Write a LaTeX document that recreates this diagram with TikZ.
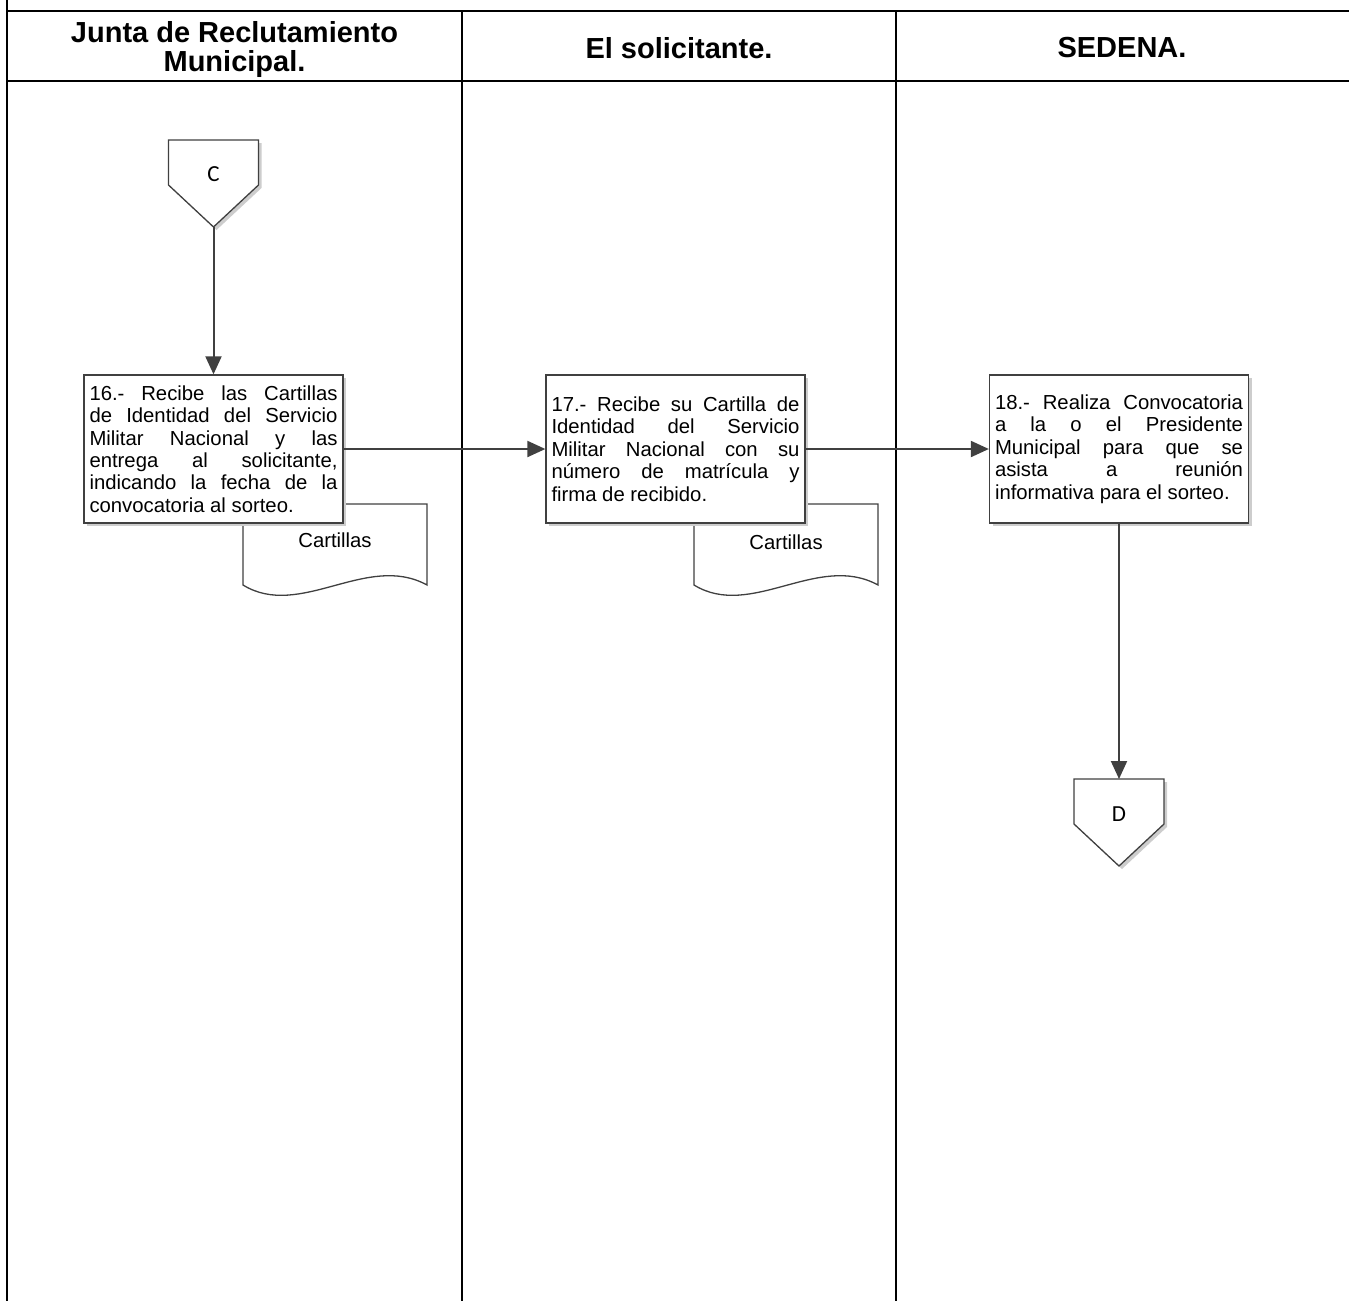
\documentclass[tikz,border=0pt]{standalone}
\usepackage{fontspec}
\setmainfont{Liberation Sans}
\newfontfamily\connfont{Carlito}
\usetikzlibrary{arrows.meta,shadows}
\definecolor{lineGray}{RGB}{64,64,64}
\definecolor{shadeGray}{RGB}{205,205,205}
\newcommand{\looselines}{\tolerance=10000 \hbadness=10000 \hyphenpenalty=10000
  \leftskip=0pt \rightskip=0pt \parfillskip=0pt plus 1fil \spaceskip=0pt \xspaceskip=0pt }

\tikzset{
  lane/.style={line width=2.6pt, black},
  lanehead/.style={font=\fontsize{29}{29}\selectfont\bfseries, align=center},
  stepbox/.style={draw=lineGray, line width=1.3pt, fill=white, text width=248pt,
    minimum height=148pt, inner xsep=5.5pt,
    font=\fontsize{20.3}{22.4}\selectfont,
    execute at begin node=\looselines,
    drop shadow={shadow xshift=3pt, shadow yshift=-3pt, fill=shadeGray, opacity=1}},
  doctext/.style={font=\fontsize{20.3}{22.4}\selectfont},
  docshape/.style={draw=lineGray, line width=1.3pt, fill=white},
  offpage/.style={draw=lineGray, line width=1.3pt, fill=white,
    drop shadow={shadow xshift=3pt, shadow yshift=-3pt, fill=shadeGray, opacity=1}},
  conntext/.style={font=\connfont\fontsize{23}{23}\selectfont},
  flow/.style={draw=lineGray, line width=2pt, -{Triangle[length=18pt, width=16pt]}},
}

\begin{document}
\begin{tikzpicture}[x=1pt, y=-1pt]
  \useasboundingbox (0,0) rectangle (1349,1301);

  % swimlanes
  \draw[lane] (7,0) -- (7,1301);
  \draw[lane] (7,11) -- (1349,11);
  \draw[lane] (7,81) -- (1349,81);
  \draw[lane] (462,11) -- (462,1301);
  \draw[lane] (896,11) -- (896,1301);
  \node[lanehead] (headJunta) at (234.5,50) {Junta de Reclutamiento\\Municipal.};
  \node[lanehead] (headSolic) at (679,48) {El solicitante.};
  \node[lanehead] (headSedena) at (1122,48) {SEDENA.};

  % connector C
  \draw[offpage] (168.5,140) -- (258.5,140) -- (258.5,185) -- (213.5,227) -- (168.5,185) -- cycle;
  \node[conntext] (conC) at (213.5,174) {C};
  \coordinate (cTip) at (213.5,227);

  % documents
  \draw[docshape] (243,504) -- (427,504) -- (427,585) .. controls (367,552) and (300,620) .. (243,585) -- cycle;
  \node[doctext] (docA) at (335,540) {Cartillas};
  \draw[docshape] (694,504) -- (878,504) -- (878,585) .. controls (818,552) and (751,620) .. (694,585) -- cycle;
  \node[doctext] (docB) at (786,542) {Cartillas};

  % steps
  \node[stepbox] (box16) at (213.5,449) {16.- Recibe las Cartillas\linebreak de Identidad del Servicio\linebreak Militar Nacional y las\linebreak entrega al solicitante,\linebreak indicando la fecha de la\linebreak convocatoria al sorteo.};
  \node[stepbox] (box17) at (675.5,449) {17.- Recibe su Cartilla de\linebreak Identidad del Servicio\linebreak Militar Nacional con su\linebreak número de matrícula y\linebreak firma de recibido.};
  \node[stepbox] (box18) at (1119,449) {18.- Realiza Convocatoria\linebreak a la o el Presidente\linebreak Municipal para que se\linebreak asista a reunión\linebreak informativa para el sorteo.};

  % connector D
  \draw[offpage] (1074,779) -- (1164,779) -- (1164,824) -- (1119,866) -- (1074,824) -- cycle;
  \node[conntext] (conD) at (1119,814) {D};
  \coordinate (dTop) at (1119,779);

  % flow
  \draw[flow] (cTip) -- (box16.north);
  \draw[flow] (box16) -- (box17);
  \draw[flow] (box17) -- (box18);
  \draw[flow] (box18) -- (dTop);
\end{tikzpicture}
\end{document}
